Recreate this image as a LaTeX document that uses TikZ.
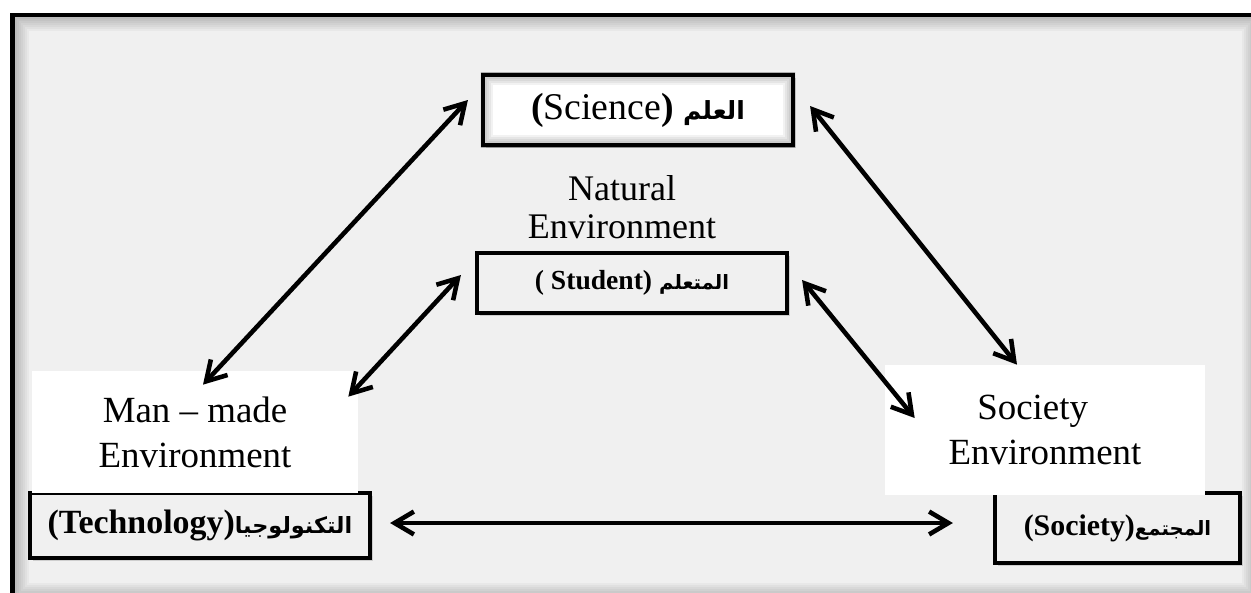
\documentclass[tikz,border=0pt]{standalone}
\usepackage{fontspec}
\setmainfont{Liberation Serif}
\newfontfamily\arabicfont[Script=Arabic,Scale=0.66]{DejaVu Sans}
\TeXXeTstate=1
\usetikzlibrary{arrows.meta,calc,shadows}
\definecolor{paper}{gray}{0.94}
\newcommand{\arword}[1]{{\arabicfont\bfseries\beginR #1\endR}}

\begin{document}
\begin{tikzpicture}
  [x=0.02cm, y=-0.02cm,
   box/.style={draw, line width=2.4pt, fill=paper, inner sep=0pt,
     drop shadow={opacity=0.3, shadow xshift=1.5pt, shadow yshift=-1.5pt}},
   envbox/.style={fill=white, inner sep=0pt, align=center,
     font=\fontsize{21}{25.5}\selectfont},
   biarrow/.style={line width=2.6pt,
     {Straight Barb[length=11pt,width=13pt]}-{Straight Barb[length=11pt,width=13pt]}}]
  \clip (0,0) rectangle (1251,592);
  \fill [white] (0,0) rectangle (1251,592);
  \fill [paper] (12.5,15) rectangle (1258,599);
  % inner shadow of the frame
  \begin{scope}
    \clip (12.5,15) rectangle (1258,599);
    \foreach \d in {2,4,...,16}
      \draw [opacity=0.03, line width=2*\d*0.02cm] (12.5,15) rectangle (1258,599);
  \end{scope}
  \draw [line width=2.8pt] (12.5,15) rectangle (1258,599);

  \node [name=science, box, fill=white, minimum width=6.2cm, minimum height=1.4cm,
    font=\fontsize{21.5}{25}\selectfont] at (638,110)
    {\textbf{(}Science\textbf{)} \arword{العلم}};
  \begin{scope}
    \clip (science.south west) rectangle (science.north east);
    \foreach \d in {2,4,...,12}
      \draw [opacity=0.05, line width=2*\d*0.02cm] (science.south west) rectangle (science.north east);
  \end{scope}
  \node [name=student, box, minimum width=6.2cm, minimum height=1.2cm,
    font=\bfseries\fontsize{15.7}{18}\selectfont] at (632,283)
    {( Student) \arword{\fontsize{17}{18}\selectfont المتعلم}};
  \node [name=tech, box, minimum width=6.8cm, minimum height=1.3cm,
    font=\bfseries\fontsize{19.3}{22}\selectfont] at (200,525.5)
    {(Technology)\arword{التكنولوجيا}};
  \node [name=society, box, minimum width=4.9cm, minimum height=1.4cm,
    font=\bfseries\fontsize{17}{20}\selectfont] at (1117.5,528)
    {(Society)\arword{المجتمع}};

  \node [name=manmade, envbox, minimum width=6.52cm, minimum height=2.44cm] at (195,432)
    {Man -- made\\Environment};
  \node [name=socenv, envbox, minimum width=6.4cm, minimum height=2.6cm] at (1045,430)
    {Society\hspace*{14pt}\\Environment};
  \node [name=natural, align=center, font=\fontsize{20.5}{21.5}\selectfont] at (622,207)
    {Natural\\Environment};

  \path [biarrow]
    ($(manmade.north)+(8,14)$) edge ($(science.west)+(-13,-10)$)
    ($(manmade.north east)+(-10,26)$) edge ($(student.west)+(-14,-8)$)
    ($(science.east)+(15,-4)$) edge ($(socenv.north)+(-28,0)$)
    ($(student.east)+(13,-3)$) edge ($(socenv.west)+(30,-12)$)
    ($(tech.east)+(18,-2.5)$) edge ($(society.west)+(-40,-5)$);
\end{tikzpicture}
\end{document}
